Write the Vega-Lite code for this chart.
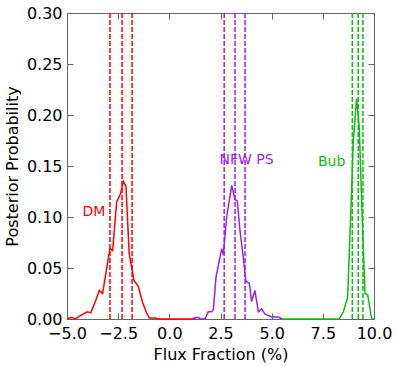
{
  "$schema": "https://vega.github.io/schema/vega-lite/v6.json",
  "width": 307,
  "height": 306,
  "autosize": {"type": "none"},
  "padding": {"left": 67, "top": 13, "right": 25, "bottom": 47},
  "config": {
    "font": "DejaVu Sans",
    "view": {"stroke": null},
    "axis": {
      "domainColor": "#666666",
      "tickColor": "#666666",
      "tickSize": -6,
      "grid": false,
      "labelFont": "DejaVu Sans",
      "labelFontSize": 16,
      "labelColor": "#000000",
      "titleFont": "DejaVu Sans",
      "titleFontSize": 16,
      "titleFontWeight": "normal",
      "titleColor": "#000000"
    }
  },
  "datasets": {
    "curves": [
      {"series": "DM", "x": -5.0, "p": 0},
      {"series": "DM", "x": -4.77, "p": 0.0016},
      {"series": "DM", "x": -4.61, "p": 0},
      {"series": "DM", "x": -4.36, "p": 0.003},
      {"series": "DM", "x": -4.2, "p": 0.005},
      {"series": "DM", "x": -4.01, "p": 0.007},
      {"series": "DM", "x": -3.84, "p": 0.006},
      {"series": "DM", "x": -3.6, "p": 0.018},
      {"series": "DM", "x": -3.42, "p": 0.028},
      {"series": "DM", "x": -3.26, "p": 0.025},
      {"series": "DM", "x": -3.1, "p": 0.045},
      {"series": "DM", "x": -2.9, "p": 0.069},
      {"series": "DM", "x": -2.77, "p": 0.067},
      {"series": "DM", "x": -2.57, "p": 0.115},
      {"series": "DM", "x": -2.38, "p": 0.123},
      {"series": "DM", "x": -2.25, "p": 0.135},
      {"series": "DM", "x": -2.12, "p": 0.13},
      {"series": "DM", "x": -1.96, "p": 0.064},
      {"series": "DM", "x": -1.73, "p": 0.038},
      {"series": "DM", "x": -1.52, "p": 0.032},
      {"series": "DM", "x": -1.3, "p": 0.016},
      {"series": "DM", "x": -1.11, "p": 0.006},
      {"series": "DM", "x": -0.98, "p": 0.001},
      {"series": "DM", "x": -0.7, "p": 0.001},
      {"series": "DM", "x": -0.55, "p": 0},
      {"series": "DM", "x": 1.3, "p": 0},
      {"series": "NFW PS", "x": 1.1, "p": 0},
      {"series": "NFW PS", "x": 1.17, "p": 0.0007},
      {"series": "NFW PS", "x": 1.37, "p": 0.0016},
      {"series": "NFW PS", "x": 1.55, "p": 0},
      {"series": "NFW PS", "x": 1.74, "p": 0},
      {"series": "NFW PS", "x": 1.9, "p": 0.007},
      {"series": "NFW PS", "x": 2.07, "p": 0.007},
      {"series": "NFW PS", "x": 2.15, "p": 0.009},
      {"series": "NFW PS", "x": 2.28, "p": 0.041},
      {"series": "NFW PS", "x": 2.56, "p": 0.069},
      {"series": "NFW PS", "x": 2.64, "p": 0.063},
      {"series": "NFW PS", "x": 2.8, "p": 0.1},
      {"series": "NFW PS", "x": 3.05, "p": 0.131},
      {"series": "NFW PS", "x": 3.21, "p": 0.117},
      {"series": "NFW PS", "x": 3.32, "p": 0.116},
      {"series": "NFW PS", "x": 3.45, "p": 0.087},
      {"series": "NFW PS", "x": 3.61, "p": 0.061},
      {"series": "NFW PS", "x": 3.74, "p": 0.037},
      {"series": "NFW PS", "x": 3.91, "p": 0.035},
      {"series": "NFW PS", "x": 4.02, "p": 0.017},
      {"series": "NFW PS", "x": 4.18, "p": 0.028},
      {"series": "NFW PS", "x": 4.35, "p": 0.007},
      {"series": "NFW PS", "x": 4.51, "p": 0.01},
      {"series": "NFW PS", "x": 4.67, "p": 0.005},
      {"series": "NFW PS", "x": 5.0, "p": 0.002},
      {"series": "NFW PS", "x": 5.33, "p": 0.002},
      {"series": "NFW PS", "x": 5.5, "p": 0},
      {"series": "Bub", "x": 5.5, "p": 0},
      {"series": "Bub", "x": 8.3, "p": 0},
      {"series": "Bub", "x": 8.5, "p": 0.007},
      {"series": "Bub", "x": 8.71, "p": 0.021},
      {"series": "Bub", "x": 8.86, "p": 0.1},
      {"series": "Bub", "x": 8.99, "p": 0.175},
      {"series": "Bub", "x": 9.15, "p": 0.216},
      {"series": "Bub", "x": 9.28, "p": 0.188},
      {"series": "Bub", "x": 9.4, "p": 0.113},
      {"series": "Bub", "x": 9.56, "p": 0.025},
      {"series": "Bub", "x": 9.69, "p": 0.024},
      {"series": "Bub", "x": 9.89, "p": 0},
      {"series": "Bub", "x": 10.0, "p": 0}
    ],
    "rules": [
      {"series": "DM", "x": -2.9},
      {"series": "DM", "x": -2.31},
      {"series": "DM", "x": -1.82},
      {"series": "NFW PS", "x": 2.68},
      {"series": "NFW PS", "x": 3.21},
      {"series": "NFW PS", "x": 3.7},
      {"series": "Bub", "x": 8.94},
      {"series": "Bub", "x": 9.23},
      {"series": "Bub", "x": 9.46}
    ],
    "labels": [
      {"series": "DM", "x": -3.68, "p": 0.105},
      {"series": "NFW PS", "x": 3.77, "p": 0.156},
      {"series": "Bub", "x": 7.93, "p": 0.154}
    ]
  },
  "layer": [
    {
      "data": {"name": "curves"},
      "mark": {"type": "line", "strokeWidth": 1.5},
      "encoding": {
        "x": {
          "field": "x", "type": "quantitative",
          "scale": {"domain": [-5, 10], "nice": false, "zero": false},
          "axis": {"orient": "bottom", "title": "Flux Fraction (%)", "values": [-5, -2.5, 0, 2.5, 5, 7.5, 10], "format": ".1f", "labelPadding": 12, "titlePadding": 5, "labelFlush": false}
        },
        "y": {
          "field": "p", "type": "quantitative",
          "scale": {"domain": [0, 0.3], "nice": false},
          "axis": {"orient": "left", "title": "Posterior Probability", "values": [0, 0.05, 0.1, 0.15, 0.2, 0.25, 0.3], "format": ".2f", "labelPadding": 11, "titlePadding": 6, "labelFlush": false}
        },
        "color": {
          "field": "series", "type": "nominal",
          "scale": {"domain": ["DM", "NFW PS", "Bub"], "range": ["#ff0000", "#9a1ff2", "#11bb11"]},
          "legend": null
        },
        "detail": {"field": "series"}
      }
    },
    {
      "data": {"name": "rules"},
      "mark": {"type": "rule", "strokeWidth": 1.5, "strokeDash": [5, 2]},
      "encoding": {
        "x": {
          "field": "x", "type": "quantitative",
          "scale": {"domain": [-5, 10], "nice": false, "zero": false},
          "axis": {"orient": "top", "title": null, "labels": false, "values": [-5, -2.5, 0, 2.5, 5, 7.5, 10]}
        },
        "color": {
          "field": "series", "type": "nominal",
          "scale": {"domain": ["DM", "NFW PS", "Bub"], "range": ["#ff0000", "#9a1ff2", "#11bb11"]},
          "legend": null
        }
      }
    },
    {
      "data": {"name": "labels"},
      "mark": {"type": "text", "fontSize": 14, "font": "DejaVu Sans", "align": "center", "baseline": "middle"},
      "encoding": {
        "x": {"field": "x", "type": "quantitative", "scale": {"domain": [-5, 10], "nice": false, "zero": false}, "axis": null},
        "y": {
          "field": "p", "type": "quantitative",
          "scale": {"domain": [0, 0.3], "nice": false},
          "axis": {"orient": "right", "title": null, "labels": false, "values": [0, 0.05, 0.1, 0.15, 0.2, 0.25, 0.3]}
        },
        "text": {"field": "series"},
        "color": {
          "field": "series", "type": "nominal",
          "scale": {"domain": ["DM", "NFW PS", "Bub"], "range": ["#ff0000", "#9a1ff2", "#11bb11"]},
          "legend": null
        }
      }
    }
  ],
  "resolve": {"axis": {"x": "independent", "y": "independent"}}
}
